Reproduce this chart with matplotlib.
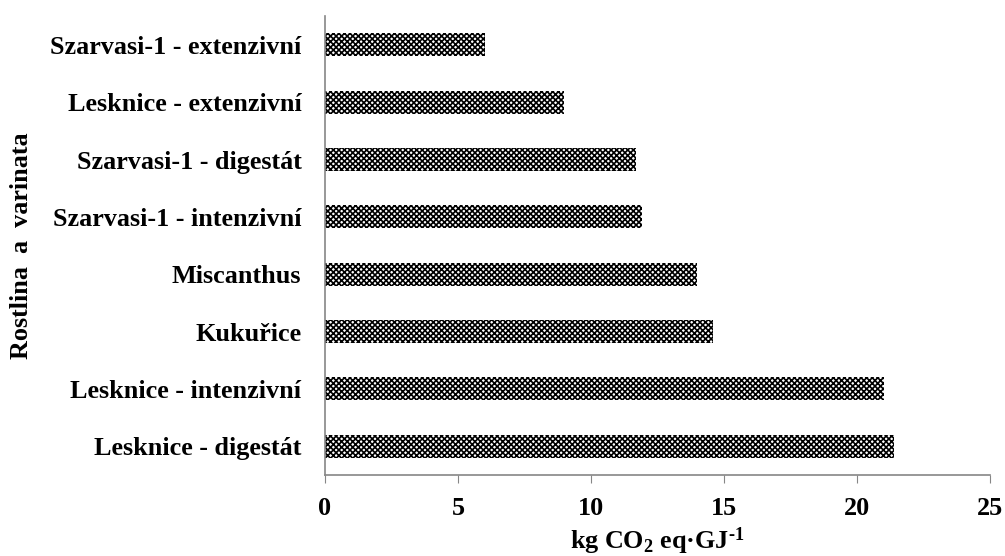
import matplotlib
matplotlib.use("Agg")
import matplotlib.pyplot as plt

# bottom-to-top order as drawn
categories = [
    "Lesknice - digestát",
    "Lesknice - intenzivní",
    "Kukuřice",
    "Miscanthus",
    "Szarvasi-1 - intenzivní",
    "Szarvasi-1 - digestát",
    "Lesknice - extenzivní",
    "Szarvasi-1 - extenzivní",
]
values = [21.4, 21.0, 14.6, 14.0, 11.9, 11.7, 9.0, 6.0]
xticks = [0, 5, 10, 15, 20, 25]

plt.rcParams["font.family"] = ["Liberation Serif", "DejaVu Serif"]
plt.rcParams["font.weight"] = "bold"
plt.rcParams["mathtext.fontset"] = "custom"
plt.rcParams["mathtext.rm"] = "Liberation Serif:bold"
plt.rcParams["mathtext.it"] = "Liberation Serif:bold"
plt.rcParams["mathtext.bf"] = "Liberation Serif:bold"
plt.rcParams["hatch.linewidth"] = 1.2

fs = 18.8

fig = plt.figure(figsize=(10.05, 5.56), dpi=100)
ax = fig.add_axes([0.3234, 0.1457, 0.6616, 0.8253])

ypos = range(len(categories))
ax.barh(ypos, values, height=0.4, color="white", edgecolor="black",
        hatch="xxxxxx", linewidth=0)

ax.set_xlim(0, 25)
ax.set_ylim(-0.5, len(categories) - 0.5)
ax.set_xticks(xticks)
ax.set_xticklabels([str(t) for t in xticks], fontsize=fs, fontweight="bold")
ax.set_yticks(list(ypos))
ax.set_yticklabels(categories, fontsize=fs, fontweight="bold")

for s in ["top", "right"]:
    ax.spines[s].set_visible(False)
ax.spines["left"].set_color("#868686")
ax.spines["bottom"].set_color("#868686")
ax.spines["left"].set_linewidth(1.2)
ax.spines["bottom"].set_linewidth(1.2)
ax.tick_params(axis="y", length=0, pad=17)
ax.tick_params(axis="x", length=6, color="#868686", pad=10)

ax.set_xlabel(r"kg CO$_2$ eq·GJ$^{\text{-1}}$", fontsize=fs, fontweight="bold", labelpad=4)
ax.set_ylabel("Rostlina  a  varinata", fontsize=fs, fontweight="bold", labelpad=12)

fig.savefig("out.png", dpi=100)
